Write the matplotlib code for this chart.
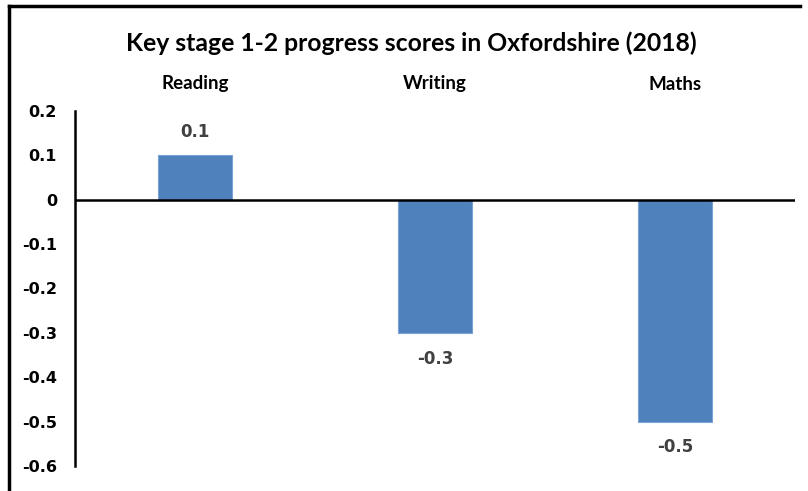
import matplotlib
matplotlib.use("Agg")
import matplotlib.pyplot as plt
from matplotlib.lines import Line2D

categories = ["Reading", "Writing", "Maths"]
scores = [0.1, -0.3, -0.5]
value_labels = ["0.1", "-0.3", "-0.5"]
yticks = [0.2, 0.1, 0.0, -0.1, -0.2, -0.3, -0.4, -0.5, -0.6]
ytick_labels = ["0.2", "0.1", "0", "-0.1", "-0.2", "-0.3", "-0.4", "-0.5", "-0.6"]
title = "Key stage 1-2 progress scores in Oxfordshire (2018)"

plt.rcParams['font.family'] = ['Lato', 'DejaVu Sans']

fig = plt.figure(figsize=(8.08, 4.91), dpi=100)
W, H = 808, 491
ax = fig.add_axes([75 / W, (H - 466) / H, (795 - 75) / W, (466 - 111) / H])

x = list(range(len(categories)))
ax.bar(x, scores, width=0.31, color="#4F81BD", edgecolor="#7BA3D6", linewidth=0.8, zorder=2)

ax.set_xlim(-0.5, 2.5)
ax.set_ylim(-0.6, 0.2)
ax.set_yticks(yticks)
ax.set_yticklabels(ytick_labels, fontsize=11.5, fontweight='bold', family=['Tahoma', 'DejaVu Sans'])
ax.tick_params(axis='y', length=0, pad=13)
ax.set_xticks([])

for s in ['top', 'right', 'bottom']:
    ax.spines[s].set_visible(False)
ax.spines['left'].set_linewidth(1.8)
ax.spines['left'].set_color('black')
ax.axhline(0, color='black', linewidth=1.8, zorder=3)

for xi, v, lab in zip(x, scores, value_labels):
    if v >= 0:
        ax.annotate(lab, (xi, v), xytext=(0, 10), textcoords='offset points',
                    ha='center', va='bottom', fontsize=12, fontweight='bold', color='#404040',
                    family=['DejaVu Sans'])
    else:
        ax.annotate(lab, (xi, v), xytext=(0, -12), textcoords='offset points',
                    ha='center', va='top', fontsize=12, fontweight='bold', color='#404040',
                    family=['DejaVu Sans'])

for xi, c in zip(x, categories):
    ax.text(xi, 1.0 + 27 / 355, c, transform=ax.get_xaxis_transform(),
            ha='center', va='center', fontsize=13.5, fontweight='bold')

fig.text(411 / W, 1 - 43 / H, title, ha='center', va='center', fontsize=17.8, fontweight='bold')

# figure border (top and left)
fig.add_artist(Line2D([9 / W, 800 / W], [1 - 6 / H, 1 - 6 / H], color='black', linewidth=2.5,
                      transform=fig.transFigure))
fig.add_artist(Line2D([9 / W, 9 / W], [0, 1 - 6 / H], color='black', linewidth=2.5,
                      transform=fig.transFigure))

fig.savefig("out.png", dpi=100)
